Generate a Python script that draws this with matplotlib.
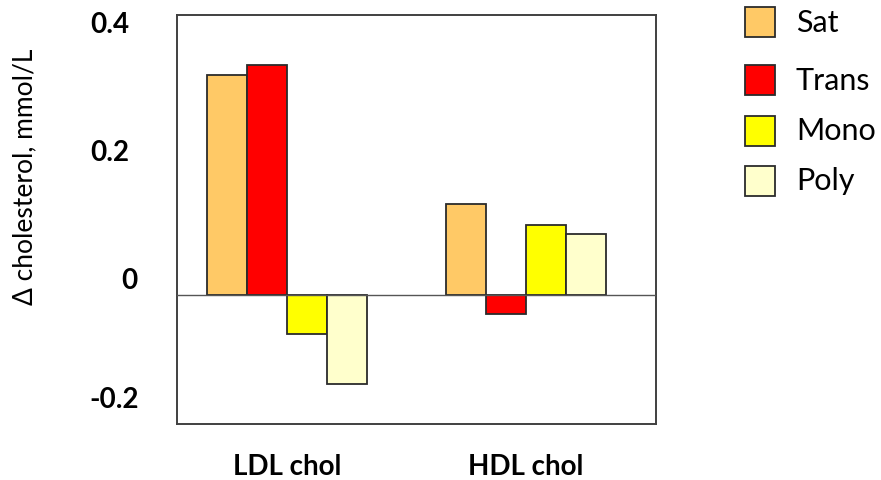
import numpy as np
import matplotlib
matplotlib.use("Agg")
import matplotlib.pyplot as plt
from matplotlib.patches import Rectangle

# --- data ---
groups = ["LDL chol", "HDL chol"]
series = ["Sat", "Trans", "Mono", "Poly"]
sat = [0.314, 0.129]
trans = [0.328, -0.028]
mono = [-0.056, 0.100]
poly = [-0.128, 0.086]
colors = ["#FFC966", "#FF0000", "#FFFF00", "#FFFFCC"]
tick_text = ["0.4", "0.2", "0", "-0.2"]

plt.rcParams["font.family"] = ["Lato", "DejaVu Sans"]

W, H = 881, 481
fig = plt.figure(figsize=(W / 100, H / 100), dpi=100)
ax = fig.add_axes([0.2009, 0.1164, 0.5437, 0.8503])

x = np.arange(len(groups))
w = 0.167
for i, vals in enumerate([sat, trans, mono, poly]):
    ax.bar(x + (i - 1.5) * w, vals, w, color=colors[i], edgecolor="#2b2b2b",
           linewidth=1.3, label=series[i], zorder=2)

ax.axhline(0, color="#555555", linewidth=1.0, zorder=3)
ax.set_xlim(-0.46, 1.544)
ax.set_ylim(-0.1853, 0.4)

for s in ax.spines.values():
    s.set_color("#404040")
    s.set_linewidth(1.4)

ax.set_yticks([])
ax.set_xticks(x)
ax.set_xticklabels(groups, fontsize=20, fontweight="bold")
ax.tick_params(axis="x", length=0, pad=21)

# y tick labels sit slightly off the ticks in the original, place by hand
label_px = [(129, 25), (129, 153), (138, 281), (139, 400)]
for t, (px, py) in zip(tick_text, label_px):
    fig.text(px / W, 1 - py / H, t, ha="right", va="center",
             fontsize=20, fontweight="bold")

fig.text(25 / W, 1 - 177 / H, "\u0394 cholesterol, mmol/L", rotation=90,
         ha="center", va="center", fontsize=19)

# legend, drawn by hand to match the uneven spacing
legend_y = [23, 80.5, 131.5, 181.5]
for name, c, cy in zip(series, colors, legend_y):
    fig.patches.append(Rectangle((745 / W, 1 - (cy + 15) / H), 30 / W, 30 / H,
                                 transform=fig.transFigure, facecolor=c,
                                 edgecolor="#2b2b2b", linewidth=1.3))
    fig.text(796 / W, 1 - cy / H, name, ha="left", va="center", fontsize=22)

fig.savefig("out.png", dpi=100)
